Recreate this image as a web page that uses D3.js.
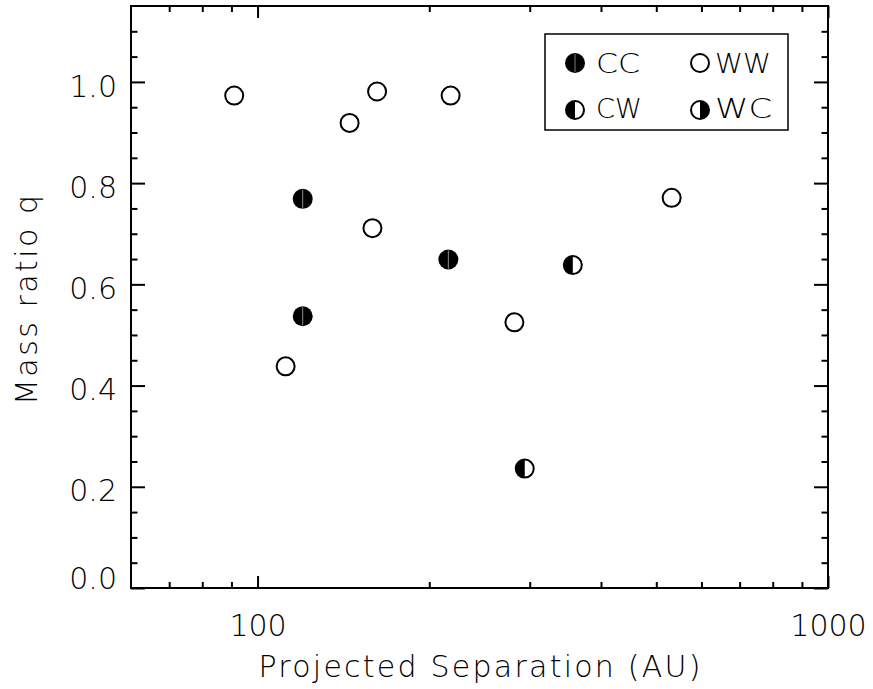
<!DOCTYPE html>
<html><head><meta charset="utf-8">
<script src="https://cdn.jsdelivr.net/npm/d3@7"></script>
<style>
body{margin:0;background:#fff}
text{font-family:"DejaVu Sans","Liberation Sans",sans-serif;font-weight:200;fill:#000}
</style>
</head><body>
<svg id="c" width="873" height="689"></svg>
<script>
// ---- data ----
const wwSep = [91, 145, 162, 218, 159, 112, 282, 532];
const wwQ   = [0.973, 0.919, 0.981, 0.973, 0.711, 0.438, 0.525, 0.771];
const ccSep = [120, 120, 216];
const ccQ   = [0.769, 0.537, 0.649];
const cwSep = [357, 294];
const cwQ   = [0.638, 0.236];
const wcSep = [];
const wcQ   = [];
const xMajorTicks = [100, 1000];
const xMinorTicks = [70, 80, 90, 200, 300, 400, 500, 600, 700, 800, 900];
const yMajorTicks = [0, 0.2, 0.4, 0.6, 0.8, 1.0];
const yMinorTicks = [0.05,0.1,0.15,0.25,0.3,0.35,0.45,0.5,0.55,0.65,0.7,0.75,0.85,0.9,0.95,1.05,1.1];
const legendLabels = ["CC", "WW", "CW", "WC"];
const xTitle = "Projected Separation (AU)";
const yTitle = "Mass ratio q";

// ---- layout ----
const W = 873, H = 689;
const m = {left: 131, top: 6, right: 45, bottom: 101};
const pw = W - m.left - m.right, ph = H - m.top - m.bottom;
const svg = d3.select("#c");
const g = svg.append("g").attr("transform", `translate(${m.left},${m.top})`);

const x = d3.scaleLog().domain([60, 1000]).range([0, pw]);
const y = d3.scaleLinear().domain([0, 1.15]).range([ph, 0]);

const xMajLen = 12, xMinLen = 6, yMajLen = 14, yMinLen = 6.5;
const fmtX = d => String(d);
const fmtY = d => d.toFixed(1);

function styleAxis(sel){
  sel.select(".domain").remove();
  sel.selectAll(".tick line").attr("stroke", "#000").attr("stroke-width", 2);
}
// bottom
g.append("g").attr("transform", `translate(0,${ph})`)
  .call(d3.axisBottom(x).tickValues(xMinorTicks).tickSizeInner(-xMinLen).tickSizeOuter(0).tickFormat(""))
  .call(styleAxis);
const xb = g.append("g").attr("transform", `translate(0,${ph})`)
  .call(d3.axisBottom(x).tickValues(xMajorTicks).tickSizeInner(-xMajLen).tickSizeOuter(0).tickFormat(fmtX))
  .call(styleAxis);
xb.selectAll(".tick text").attr("y", 48).attr("dy", 0).attr("font-size", 30).attr("fill", "#000");
// top
g.append("g")
  .call(d3.axisTop(x).tickValues(xMinorTicks).tickSizeInner(-xMinLen).tickSizeOuter(0).tickFormat(""))
  .call(styleAxis);
g.append("g")
  .call(d3.axisTop(x).tickValues(xMajorTicks).tickSizeInner(-xMajLen).tickSizeOuter(0).tickFormat(""))
  .call(styleAxis);
// left
g.append("g")
  .call(d3.axisLeft(y).tickValues(yMinorTicks).tickSizeInner(-yMinLen).tickSizeOuter(0).tickFormat(""))
  .call(styleAxis);
const yl = g.append("g")
  .call(d3.axisLeft(y).tickValues(yMajorTicks).tickSizeInner(-yMajLen).tickSizeOuter(0).tickFormat(fmtY))
  .call(styleAxis);
yl.selectAll(".tick text").attr("x", -14).attr("dy", d => d === 0 ? "0" : "0.47em")
  .attr("font-size", 30).attr("fill", "#000");
// right
g.append("g").attr("transform", `translate(${pw},0)`)
  .call(d3.axisRight(y).tickValues(yMinorTicks).tickSizeInner(-yMinLen).tickSizeOuter(0).tickFormat(""))
  .call(styleAxis);
g.append("g").attr("transform", `translate(${pw},0)`)
  .call(d3.axisRight(y).tickValues(yMajorTicks).tickSizeInner(-yMajLen).tickSizeOuter(0).tickFormat(""))
  .call(styleAxis);

// frame
g.append("rect").attr("x", 0).attr("y", 0).attr("width", pw).attr("height", ph)
  .attr("fill", "none").attr("stroke", "#000").attr("stroke-width", 2);

// titles
svg.append("text").attr("x", m.left + pw/2).attr("y", 677).attr("text-anchor", "middle")
  .attr("font-size", 30).attr("textLength", 442).attr("lengthAdjust", "spacing").text(xTitle);
svg.append("text").attr("transform", `translate(37,300) rotate(-90)`)
  .attr("text-anchor", "middle").attr("font-size", 30)
  .attr("textLength", 210).attr("lengthAdjust", "spacing").text(yTitle);

// symbols
const R = 9;
function halfPath(cx, cy, r, side){
  const sweep = side === "left" ? 0 : 1;
  return `M${cx},${cy - r} A${r},${r} 0 0 ${sweep} ${cx},${cy + r} Z`;
}
function drawSym(parent, type, cx, cy){
  const s = parent.append("g");
  if (type === "CC"){
    s.append("path").attr("d", halfPath(cx, cy, R + 1, "left")).attr("fill", "#000");
    s.append("path").attr("d", halfPath(cx, cy, R + 1, "right")).attr("fill", "#000");
    s.append("line").attr("x1", cx).attr("x2", cx).attr("y1", cy - R).attr("y2", cy + R)
      .attr("stroke", "#999").attr("stroke-width", 0.8);
  } else {
    s.append("circle").attr("cx", cx).attr("cy", cy).attr("r", R)
      .attr("fill", "#fff").attr("stroke", "#000").attr("stroke-width", 2);
    if (type === "CW") s.append("path").attr("d", halfPath(cx, cy, R, "left")).attr("fill", "#000");
    if (type === "WC") s.append("path").attr("d", halfPath(cx, cy, R, "right")).attr("fill", "#000");
  }
}
const groups = [
  ["WW", wwSep, wwQ], ["CC", ccSep, ccQ], ["CW", cwSep, cwQ], ["WC", wcSep, wcQ]
];
groups.forEach(([t, xs, ys]) => xs.forEach((v, i) => drawSym(g, t, x(v), y(ys[i]))));

// legend
const lg = svg.append("g");
lg.append("rect").attr("x", 545).attr("y", 34).attr("width", 243).attr("height", 96)
  .attr("fill", "#fff").attr("stroke", "#000").attr("stroke-width", 1.5);
const legPos = [[575, 63], [700, 63], [575, 110], [700, 110]];
const legLen = [44, 56, 46, 57];
legendLabels.forEach((lab, i) => {
  const [lx, ly] = legPos[i];
  drawSym(lg, lab, lx, ly);
  lg.append("text").attr("x", lx + (i % 2 === 0 ? 21 : 15)).attr("y", ly + (i < 2 ? 10 : 8))
    .attr("font-size", 26).attr("textLength", legLen[i]).attr("lengthAdjust", "spacingAndGlyphs").text(lab);
});
</script>
</body></html>
